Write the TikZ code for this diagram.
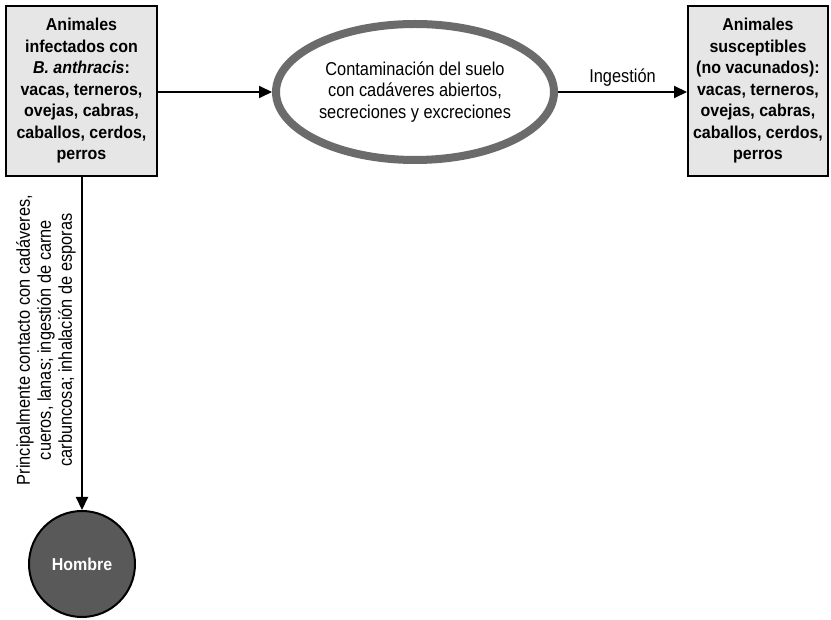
\documentclass[tikz,border=0pt]{standalone}
\usepackage{fontspec}
\setmainfont{Liberation Sans}
\newfontfamily\regnarrow[FakeStretch=0.88]{Liberation Sans}
\newfontfamily\boldnarrow[FakeStretch=0.93]{Liberation Sans}
\usetikzlibrary{arrows.meta,shapes.geometric}
\definecolor{boxfill}{HTML}{E6E6E6}
\definecolor{ringgray}{HTML}{6B6B6B}
\definecolor{mangray}{HTML}{595959}
\tikzset{
  animalbox/.style={draw=black, line width=2pt, fill=boxfill, rectangle,
    inner sep=0pt, align=center,
    font=\boldnarrow\bfseries\fontsize{17.2}{21.5}\selectfont},
  soilring/.style={draw=ringgray, line width=8pt, fill=white, ellipse,
    inner sep=0pt, align=center,
    font=\regnarrow\fontsize{18.6}{21.7}\selectfont},
  mancircle/.style={draw=black, line width=2pt, fill=mangray, circle,
    inner sep=0pt, text=white,
    font=\boldnarrow\bfseries\fontsize{17.2}{21.5}\selectfont},
  flow/.style={draw=black, line width=2pt,
    -{Triangle[length=13pt,width=12pt]}},
  pathlabel/.style={font=\regnarrow\fontsize{18.6}{21}\selectfont, align=center}
}
\begin{document}
\begin{tikzpicture}[x=1pt,y=-1pt]
\useasboundingbox (0,0) rectangle (831,620);

% source animals
\node[animalbox, minimum width=151pt, minimum height=170pt] (src) at (81.5,91)
  {Animales\\infectados con\\\textit{B. anthracis}:\\vacas, terneros,\\ovejas, cabras,\\caballos, cerdos,\\perros};

% contaminated soil
\node[soilring, minimum width=278pt, minimum height=136pt] (soil) at (415,92)
  {Contaminación del suelo\\con cadáveres abiertos,\\secreciones y excreciones};

% susceptible animals
\node[animalbox, minimum width=140pt, minimum height=170pt] (sus) at (758,91)
  {Animales\\susceptibles\\(no vacunados):\\vacas, terneros,\\ovejas, cabras,\\caballos, cerdos,\\perros};

% humans
\node[mancircle, minimum size=106pt] (man) at (82,564) {Hombre};

% connectors
\draw[flow] (src.east |- soil.west) -- (soil.west);
\draw[flow] (soil.east) -- node[pathlabel, above=1pt] (ing) {Ingestión} (sus.west |- soil.east);
\draw[flow] (man.north |- src.south) -- (man.north);

% route of human infection
\node[pathlabel, rotate=90] (route) at (46,340)
  {Principalmente contacto con cadáveres,\\cueros, lanas; ingestión de carne\\carbuncosa; inhalación de esporas};
\end{tikzpicture}
\end{document}
